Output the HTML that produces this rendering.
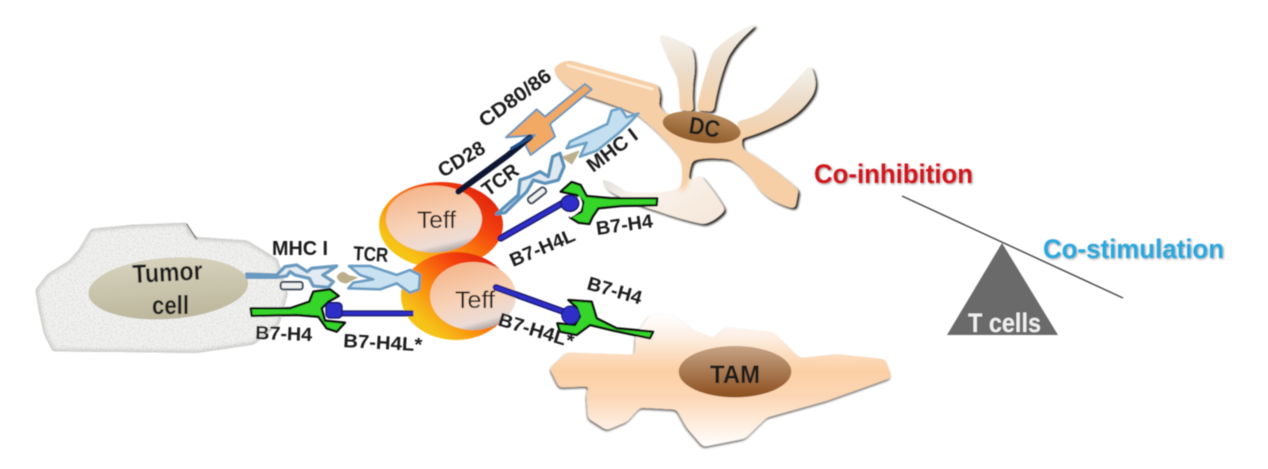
<!DOCTYPE html>
<html>
<head>
<meta charset="utf-8">
<style>
html,body{margin:0;padding:0;background:#fff;width:1268px;height:469px;overflow:hidden}
svg{display:block}
text{font-family:"Liberation Sans",sans-serif;fill:#1a1a1a}
.b{font-weight:bold}
</style>
</head>
<body>
<svg width="1268" height="469" viewBox="0 0 1268 469" xmlns="http://www.w3.org/2000/svg">
<defs>
  <filter id="soft" x="-5%" y="-5%" width="110%" height="110%"><feGaussianBlur stdDeviation="0.65"/></filter>
  <filter id="gooDC" x="-15%" y="-15%" width="130%" height="130%" color-interpolation-filters="sRGB">
    <feGaussianBlur in="SourceGraphic" stdDeviation="6" result="b"/>
    <feColorMatrix in="b" type="matrix" values="1 0 0 0 0 0 1 0 0 0 0 0 1 0 0 0 0 0 16 -7" result="g"/>
    <feOffset in="g" dx="6" dy="6" result="o"/>
    <feGaussianBlur in="o" stdDeviation="3" result="ob"/>
    <feColorMatrix in="ob" type="matrix" values="0 0 0 0 0.1 0 0 0 0 0.08 0 0 0 0 0.06 0 0 0 0.95 0" result="sh"/>
    <feMerge><feMergeNode in="sh"/><feMergeNode in="g"/></feMerge>
  </filter>
  <filter id="gooTAM" x="-10%" y="-15%" width="120%" height="130%" color-interpolation-filters="sRGB">
    <feGaussianBlur in="SourceGraphic" stdDeviation="7" result="b"/>
    <feColorMatrix in="b" type="matrix" values="1 0 0 0 0 0 1 0 0 0 0 0 1 0 0 0 0 0 16 -7" result="g"/>
    <feOffset in="g" dx="-2" dy="5" result="o"/>
    <feGaussianBlur in="o" stdDeviation="3" result="ob"/>
    <feColorMatrix in="ob" type="matrix" values="0 0 0 0 0.12 0 0 0 0 0.1 0 0 0 0 0.08 0 0 0 0.8 0" result="sh"/>
    <feMerge><feMergeNode in="sh"/><feMergeNode in="g"/></feMerge>
  </filter>
  <filter id="gooTum" x="-5%" y="-5%" width="110%" height="110%" color-interpolation-filters="sRGB">
    <feGaussianBlur in="SourceGraphic" stdDeviation="5" result="b"/>
    <feColorMatrix in="b" type="matrix" values="1 0 0 0 0 0 1 0 0 0 0 0 1 0 0 0 0 0 16 -7" result="g"/>
    <feTurbulence type="fractalNoise" baseFrequency="0.22" numOctaves="2" seed="4" result="n"/>
    <feColorMatrix in="n" type="matrix" values="0 0 0 0 0.74 0 0 0 0 0.74 0 0 0 0 0.74 1.4 0 0 0 -0.62" result="c"/>
    <feComposite in="c" in2="g" operator="in" result="t"/>
    <feMerge><feMergeNode in="g"/><feMergeNode in="t"/></feMerge>
  </filter>
  <filter id="tshadow" x="-10%" y="-30%" width="120%" height="160%">
    <feDropShadow dx="1" dy="1" stdDeviation="1" flood-color="#555" flood-opacity="0.6"/>
  </filter>
  <linearGradient id="sph1" x1="0.95" y1="0.05" x2="0.05" y2="0.85">
    <stop offset="0" stop-color="#d81c08"/><stop offset="0.32" stop-color="#f4400c"/>
    <stop offset="0.62" stop-color="#fb8a10"/><stop offset="0.88" stop-color="#f5c414"/>
  </linearGradient>
  <linearGradient id="inner" x1="0.25" y1="0" x2="0.6" y2="1">
    <stop offset="0" stop-color="#f4b488"/><stop offset="0.55" stop-color="#f8d2b8"/>
    <stop offset="0.88" stop-color="#ecdcd6"/><stop offset="1" stop-color="#a9a5a3"/>
  </linearGradient>
  <linearGradient id="tam" x1="0" y1="0" x2="0" y2="1">
    <stop offset="0" stop-color="#ffffff"/><stop offset="0.15" stop-color="#fdf1e8"/>
    <stop offset="0.42" stop-color="#fbcfa4"/><stop offset="0.62" stop-color="#fcd6b4"/>
    <stop offset="1" stop-color="#ffffff"/>
  </linearGradient>
  <linearGradient id="brown" x1="0" y1="0" x2="0" y2="1">
    <stop offset="0" stop-color="#c6a486"/><stop offset="1" stop-color="#8c4f1e"/>
  </linearGradient>
  <linearGradient id="dcb" x1="0" y1="0" x2="0" y2="1">
    <stop offset="0" stop-color="#b98d60"/><stop offset="1" stop-color="#8f5a28"/>
  </linearGradient>
  <linearGradient id="foot" x1="0" y1="0" x2="1" y2="0.6">
    <stop offset="0" stop-color="#dedbd8"/><stop offset="0.4" stop-color="#fbf3ec"/><stop offset="1" stop-color="#f6e8dc"/>
  </linearGradient>
  <linearGradient id="limb" x1="0" y1="0" x2="0" y2="1">
    <stop offset="0" stop-color="#f5f2ee"/><stop offset="0.5" stop-color="#ecdcc8"/><stop offset="1" stop-color="#f6cfa6"/>
  </linearGradient>
  <linearGradient id="tum" x1="0" y1="0" x2="0" y2="1">
    <stop offset="0" stop-color="#d7d2bd"/><stop offset="1" stop-color="#bcb69c"/>
  </linearGradient>
</defs>

<g filter="url(#soft)">
  <!-- Tumor cell -->
  <g transform="translate(20,200) scale(0.33333)">
    <path d="M50,270 L85,225 L150,185 L180,150 L215,90 L340,78 L500,72 L505,95 L530,115 L680,125 L770,180 L800,280 L775,370 L700,430 L530,455 L300,452 L100,450 L75,400 L60,330 Z" fill="#f3f3f1" stroke="#cfcfcd" stroke-width="8" filter="url(#gooTum)"/>
    <path d="M500,72 L530,118" stroke="#555" stroke-width="3" fill="none"/>
    <ellipse cx="445" cy="265" rx="240" ry="92" fill="url(#tum)" transform="rotate(-4 445 265)"/>
  </g>

  <!-- Top Teff sphere -->
  <ellipse cx="441" cy="225" rx="62" ry="43" fill="url(#sph1)"/>
  <ellipse cx="434" cy="219" rx="48" ry="33.5" fill="url(#inner)"/>
  <!-- Bottom Teff sphere -->
  <ellipse cx="456" cy="296" rx="55" ry="44" fill="url(#sph1)"/>
  <ellipse cx="473" cy="296" rx="43" ry="34" fill="url(#inner)"/>

  <!-- DC -->
  <g transform="translate(370,20) scale(0.33333)">
    <g filter="url(#gooDC)">
      <path d="M865,40 Q920,60 965,85 Q980,130 970,180 Q965,230 970,275 L930,270 Q930,210 920,165 Q890,110 865,40 Z" fill="url(#limb)"/>
      <path d="M980,270 Q1000,170 1030,95 Q1090,35 1180,0 Q1105,55 1075,110 Q1045,180 1030,275 Z" fill="url(#limb)"/>
      <path d="M1100,305 Q1170,290 1205,260 Q1260,205 1320,135 Q1350,190 1325,230 Q1285,290 1220,315 Q1170,340 1115,355 Z" fill="url(#limb)"/>
      <path d="M685,470 Q725,490 760,515 Q850,525 915,510 L990,465 Q1045,530 1065,570 Q1035,605 1000,612 Q930,598 860,572 Q770,545 715,510 Z" fill="url(#foot)"/>
      <path d="M550,150 Q565,125 600,122 L862,195 L870,225 L866,258 L885,280 L1000,300 L1110,330 L1118,388 Q1200,435 1285,510 L1275,565 Q1200,550 1158,495 Q1130,445 1080,418 Q1010,408 968,422 Q955,450 955,495 L930,520 Q945,450 928,410 Q880,345 800,282 Q730,252 650,228 Q590,208 550,150 Z" fill="#f6cfa6"/>
    </g>
    <path d="M590,135 L850,208" stroke="#fdecd8" stroke-width="8" fill="none"/>
    <ellipse cx="995" cy="322" rx="118" ry="45" fill="url(#dcb)" transform="rotate(9 995 322)"/>

    <!-- CD80/86 -->
    <path d="M645,192 L665,208 L540,312 L555,350 L482,405 L465,372 L495,345 L408,352 L500,268 L525,290 Z" fill="#f2a963" stroke="#6d97ba" stroke-width="6" stroke-linejoin="round"/>
    <!-- CD28 -->
    <path d="M265,515 L415,405 L480,352" stroke="#0c1733" stroke-width="18" fill="none" stroke-linecap="round"/>
    <path d="M425,385 L485,350" stroke="#1e4f8c" stroke-width="9" fill="none" stroke-linecap="round"/>
    <!-- MHC upper -->
    <path d="M805,280 L770,292 L752,265 L725,272 L712,312 L600,365 L590,385 L650,368 L630,410 L680,392 L745,340 L782,305 Z" fill="#c3dff0" stroke="#6ca1c6" stroke-width="8" stroke-linejoin="round"/>
    <path d="M580,412 L625,395 L605,430 Z" fill="#bdb08c" stroke="#bdb08c" stroke-width="6" stroke-linejoin="round"/>
    <!-- TCR upper -->
    <path d="M380,582 L445,525 L450,480 L480,470 L510,455 L535,470 L548,410 L570,400 L582,440 L565,480 L525,490 L490,480 L470,515 L405,578 Z" fill="#dfe9f0" stroke="#5a92bb" stroke-width="10" stroke-linejoin="round"/>
    <rect x="470" y="516" width="62" height="20" rx="8" fill="#f2f2f2" stroke="#3a4a5c" stroke-width="6" transform="rotate(-38 501 526)"/>
    <!-- B7-H4L + B7-H4 upper -->
    <path d="M862,535 L860,556 L752,558 L685,565 L668,590 L658,612 L625,608 L600,592 L635,575 L640,545 L620,525 L572,515 L605,486 L632,495 L650,528 L725,535 Z" fill="#35d52a" stroke="#0b0b0b" stroke-width="7" stroke-linejoin="round"/>
    <path d="M625,530 Q650,565 600,590" stroke="#fff" stroke-width="6" fill="none"/>
    <path d="M392,655 L580,548" stroke="#15155f" stroke-width="20" stroke-linecap="round"/>
    <path d="M392,655 L580,548" stroke="#2e2ec8" stroke-width="12" stroke-linecap="round"/>
    <ellipse cx="600" cy="550" rx="27" ry="24" fill="#2e2ec8" stroke="#15155f" stroke-width="4"/>
  </g>

  <!-- Tumor-side molecules -->
  <g transform="translate(20,200) scale(0.33333)">
    <path d="M680,222 L770,225 L795,200 L830,195 L862,215 L875,205 L950,198 L925,215 L908,225 L940,245 L925,262 L880,258 L868,235 L825,225 L810,215 L800,228 L770,232 L682,232 Z" fill="#e2ebf1" stroke="#6a9ac0" stroke-width="10" stroke-linejoin="round"/>
    <rect x="782" y="246" width="66" height="22" rx="7" fill="#f0f0f0" stroke="#3b4b5d" stroke-width="6"/>
    <path d="M950,230 Q965,205 985,225 L1015,232 L980,250 Q955,250 950,230 Z" fill="#bcae8a"/>
    <path d="M987,198 L1050,198 L1130,225 L1170,210 L1200,225 L1197,268 L1170,278 L1130,250 L1080,268 L985,265 L1000,248 L1060,238 L1020,225 Z" fill="#c9e2f2" stroke="#6a9cc2" stroke-width="8" stroke-linejoin="round"/>
    <path d="M692,325 L810,325 L868,305 L880,275 L930,268 L956,288 L925,305 L905,325 L915,362 L975,368 L950,395 L920,385 L895,350 L830,345 L695,348 Z" fill="#35d52a" stroke="#0b0b0b" stroke-width="7" stroke-linejoin="round"/>
    <path d="M960,340 L1180,340" stroke="#15155f" stroke-width="18"/>
    <path d="M960,340 L1180,340" stroke="#2e2ec8" stroke-width="10"/>
    <rect x="918" y="308" width="48" height="46" rx="12" fill="#2e2ec8" stroke="#15155f" stroke-width="4"/>
  </g>

  <!-- TAM -->
  <g transform="translate(480,270) scale(0.33333)">
    <path d="M210,295 L260,248 L465,255 L468,195 L510,135 L575,132 L640,180 L700,205 L740,172 L880,188 L960,265 L1070,253 L1215,268 L1235,322 L1040,392 L860,442 L795,505 L670,530 L620,472 L590,418 L480,412 L440,455 L380,480 L325,445 L320,375 L330,348 L238,352 Z" fill="url(#tam)" filter="url(#gooTAM)"/>
    <ellipse cx="765" cy="305" rx="169" ry="77" fill="url(#brown)"/>
    <path d="M265,90 L335,95 L350,145 L410,175 L520,185 L510,205 L400,182 L330,165 L290,195 L240,185 L232,160 L285,165 L300,140 L290,112 Z" fill="#35d52a" stroke="#0b0b0b" stroke-width="7" stroke-linejoin="round"/>
    <path d="M48,52 L250,125" stroke="#15155f" stroke-width="20" stroke-linecap="round"/>
    <path d="M48,52 L250,125" stroke="#2e2ec8" stroke-width="12" stroke-linecap="round"/>
    <ellipse cx="272" cy="135" rx="27" ry="27" fill="#2e2ec8" stroke="#15155f" stroke-width="3"/>
  </g>

  <!-- Balance -->
  <polygon points="1002,243 947,335 1058,335" fill="#6b6b6b"/>
  <line x1="902" y1="196" x2="1123" y2="298" stroke="#444" stroke-width="1.4"/>

  <!-- Labels -->
  <text class="b" font-size="26" x="133" y="283" textLength="70" lengthAdjust="spacingAndGlyphs" transform="rotate(-3 133 283)">Tumor</text>
  <text class="b" font-size="26" x="152" y="314" textLength="37" lengthAdjust="spacingAndGlyphs">cell</text>
  <text class="b" font-size="20" x="272" y="255" textLength="56" lengthAdjust="spacingAndGlyphs">MHC I</text>
  <text class="b" font-size="20" x="353" y="260" textLength="35" lengthAdjust="spacingAndGlyphs" transform="rotate(3 353 260)">TCR</text>
  <text class="b" font-size="19" x="255" y="339" textLength="57" lengthAdjust="spacingAndGlyphs" transform="rotate(2 255 339)">B7-H4</text>
  <text class="b" font-size="19" x="343" y="347" textLength="79" lengthAdjust="spacingAndGlyphs" transform="rotate(3 343 347)">B7-H4L*</text>
  <text font-size="24" x="417" y="228" textLength="39" lengthAdjust="spacingAndGlyphs">Teff</text>
  <text font-size="24" x="455" y="308" textLength="40" lengthAdjust="spacingAndGlyphs">Teff</text>
  <text class="b" font-size="24" x="688" y="133" textLength="31" lengthAdjust="spacingAndGlyphs" transform="rotate(9 688 133)">DC</text>
  <text class="b" font-size="20" x="485" y="128" textLength="84" lengthAdjust="spacingAndGlyphs" transform="rotate(-36 485 128)">CD80/86</text>
  <text class="b" font-size="20" x="443" y="178" textLength="51" lengthAdjust="spacingAndGlyphs" transform="rotate(-31 443 178)">CD28</text>
  <text class="b" font-size="20" x="488" y="197" textLength="40" lengthAdjust="spacingAndGlyphs" transform="rotate(-36 488 197)">TCR</text>
  <text class="b" font-size="20" x="593" y="173" textLength="58" lengthAdjust="spacingAndGlyphs" transform="rotate(-37 593 173)">MHC I</text>
  <text class="b" font-size="19" x="597" y="235" textLength="57" lengthAdjust="spacingAndGlyphs" transform="rotate(-8 597 235)">B7-H4</text>
  <text class="b" font-size="19" x="513" y="267" textLength="69" lengthAdjust="spacingAndGlyphs" transform="rotate(-23 513 267)">B7-H4L</text>
  <text class="b" font-size="19" x="586" y="289" textLength="56" lengthAdjust="spacingAndGlyphs" transform="rotate(16 586 289)">B7-H4</text>
  <text class="b" font-size="19" x="497" y="325" textLength="78" lengthAdjust="spacingAndGlyphs" transform="rotate(17 497 325)">B7-H4L*</text>
  <text class="b" font-size="25" x="710" y="383" textLength="50" lengthAdjust="spacingAndGlyphs">TAM</text>
  <text class="b" font-size="27" x="814" y="183" textLength="159" lengthAdjust="spacingAndGlyphs" style="fill:#d2121e" filter="url(#tshadow)">Co-inhibition</text>
  <text class="b" font-size="27" x="1043" y="258" textLength="181" lengthAdjust="spacingAndGlyphs" style="fill:#2aa8de" filter="url(#tshadow)">Co-stimulation</text>
  <text class="b" font-size="27" x="968" y="332" textLength="73" lengthAdjust="spacingAndGlyphs" style="fill:#f0f0f0">T cells</text>
</g>
</svg>
</body>
</html>
